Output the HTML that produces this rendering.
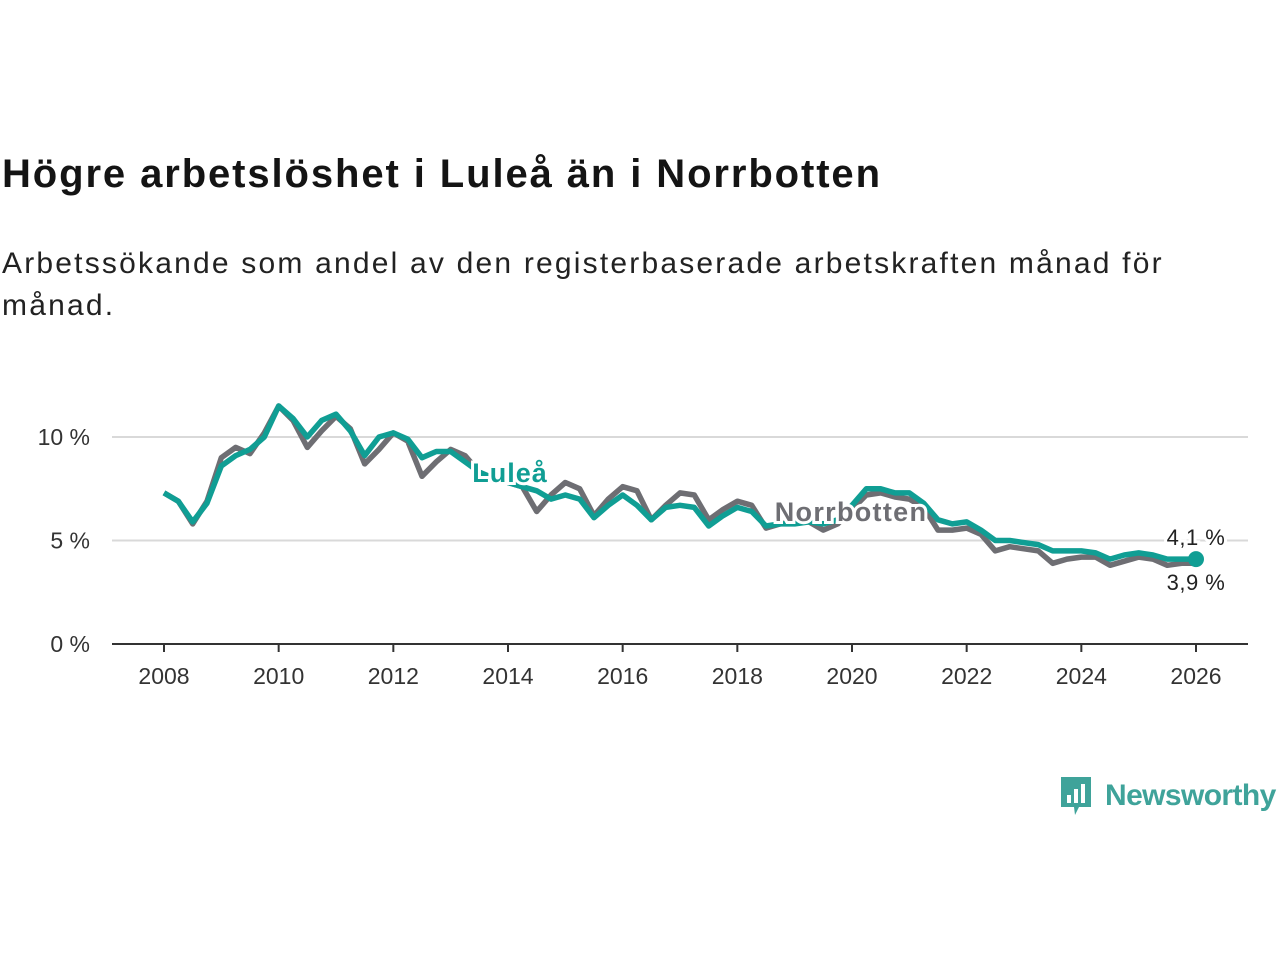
<!DOCTYPE html>
<html><head><meta charset="utf-8">
<style>
body{margin:0;background:#fff;width:1280px;height:960px;overflow:hidden;font-family:"Liberation Sans",sans-serif;}
#title{position:absolute;left:2px;top:152px;font-size:40px;letter-spacing:1.9px;font-weight:bold;color:#141414;margin:0;white-space:nowrap;}
#sub{position:absolute;left:2px;top:243px;font-size:30px;letter-spacing:2.2px;line-height:42px;color:#222;width:1200px;margin:0;}
svg{position:absolute;left:0;top:0;}
</style></head><body>
<h1 id="title">Högre arbetslöshet i Luleå än i Norrbotten</h1>
<p id="sub">Arbetssökande som andel av den registerbaserade arbetskraften månad för månad.</p>
<svg id="chart" width="1280" height="960"></svg>
<script>
const years=[2008,2010,2012,2014,2016,2018,2020,2022,2024,2026];
const yTicks=[0,5,10];
const startYear=2008, step=0.25;
const lulea=[7.3,6.9,5.9,6.8,8.6,9.1,9.4,10.0,11.5,10.9,10.0,10.8,11.1,10.3,9.1,10.0,10.2,9.9,9.0,9.3,9.3,8.8,8.3,8.0,7.8,7.6,7.4,7.0,7.2,7.0,6.1,6.7,7.2,6.7,6.0,6.6,6.7,6.6,5.7,6.2,6.6,6.4,5.7,5.8,5.8,5.9,5.8,6.0,6.7,7.5,7.5,7.3,7.3,6.8,6.0,5.8,5.9,5.5,5.0,5.0,4.9,4.8,4.5,4.5,4.5,4.4,4.1,4.3,4.4,4.3,4.1,4.1,4.1];
const norrbotten=[7.3,6.9,5.8,6.9,9.0,9.5,9.2,10.2,11.5,10.8,9.5,10.3,11.0,10.4,8.7,9.4,10.2,9.8,8.1,8.8,9.4,9.1,8.3,8.0,7.8,7.6,6.4,7.2,7.8,7.5,6.2,7.0,7.6,7.4,6.0,6.7,7.3,7.2,6.0,6.5,6.9,6.7,5.6,5.8,5.9,5.9,5.5,5.8,6.5,7.2,7.3,7.1,7.0,6.6,5.5,5.5,5.6,5.3,4.5,4.7,4.6,4.5,3.9,4.1,4.2,4.2,3.8,4.0,4.2,4.1,3.8,3.9,3.9];
const NS="http://www.w3.org/2000/svg";
const svg=document.getElementById('chart');
const X=y=>164+(y-2008)*(1196-164)/18;
const Y=v=>644-v*20.7;
function mk(t,a){const e=document.createElementNS(NS,t);for(const k in a)e.setAttribute(k,a[k]);svg.appendChild(e);return e;}
yTicks.forEach(t=>{
  if(t>0){const g=mk('line',{x1:112,x2:1248,y1:Y(t),y2:Y(t),stroke:'#d9d9d9','stroke-width':2});
  
  }
  const l=mk('text',{x:90,y:Y(t)+8,'text-anchor':'end','font-size':23,fill:'#333'});l.textContent=t+' %';
  
  
});
const ax=mk('line',{x1:112,x2:1248,y1:644,y2:644,stroke:'#333','stroke-width':2});


years.forEach(y=>{
  const tk=mk('line',{x1:X(y),x2:X(y),y1:644,y2:652,stroke:'#333','stroke-width':2});
  
  
  const l=mk('text',{x:X(y),y:684,'text-anchor':'middle','font-size':23,fill:'#333'});l.textContent=y;
  
  
});
function path(arr){return arr.map((v,i)=>(i?'L':'M')+X(startYear+i*step).toFixed(1)+','+Y(v).toFixed(1)).join('');}
const pn=mk('path',{d:path(norrbotten),fill:'none',stroke:'#6e6e73','stroke-width':5.5,'stroke-linejoin':'round'});


const pl=mk('path',{d:path(lulea),fill:'none',stroke:'#109e94','stroke-width':5.5,'stroke-linejoin':'round'});


const last=lulea.length-1;
const dot=mk('circle',{cx:X(startYear+last*step),cy:Y(lulea[last]),r:8,fill:'#109e94'});


function lab(txt,x,y,fill,bold,name,size,ls){
  const h=mk('text',{x:x,y:y,'font-size':size,'font-weight':bold?'bold':'normal',fill:'#fff',stroke:'#fff','stroke-width':6,'text-anchor':'middle','letter-spacing':ls});h.textContent=txt;
  
  
  const t=mk('text',{x:x,y:y,'font-size':size,'font-weight':bold?'bold':'normal',fill:fill,'text-anchor':'middle','letter-spacing':ls});t.textContent=txt;
  
  
}
lab('Luleå',510,482,'#109e94',true,'lulea-label',27,1);
lab('Norrbotten',851,521,'#6e6e73',true,'norrbotten-label',27,1.3);
lab('4,1 %',1196,545,'#222',false,'lulea-end-label',22,0.5);
lab('3,9 %',1196,590,'#222',false,'norrbotten-end-label',22,0.5);
</script>
<div style="position:absolute;left:1059px;top:775px;display:flex;align-items:center;">
<svg width="34" height="42" style="position:static" viewBox="0 0 34 42"><path d="M2 2h30v30H20l-4 8-1-8H2z" fill="#3fa39a"/><rect x="8" y="20" width="4" height="8" fill="#fff"/><rect x="15" y="14" width="4" height="14" fill="#fff"/><rect x="22" y="9" width="4" height="19" fill="#fff"/></svg>
<span style="font-size:30px;color:#3fa39a;margin-left:12px;font-weight:bold;letter-spacing:-0.6px;">Newsworthy</span></div>
</body></html>
